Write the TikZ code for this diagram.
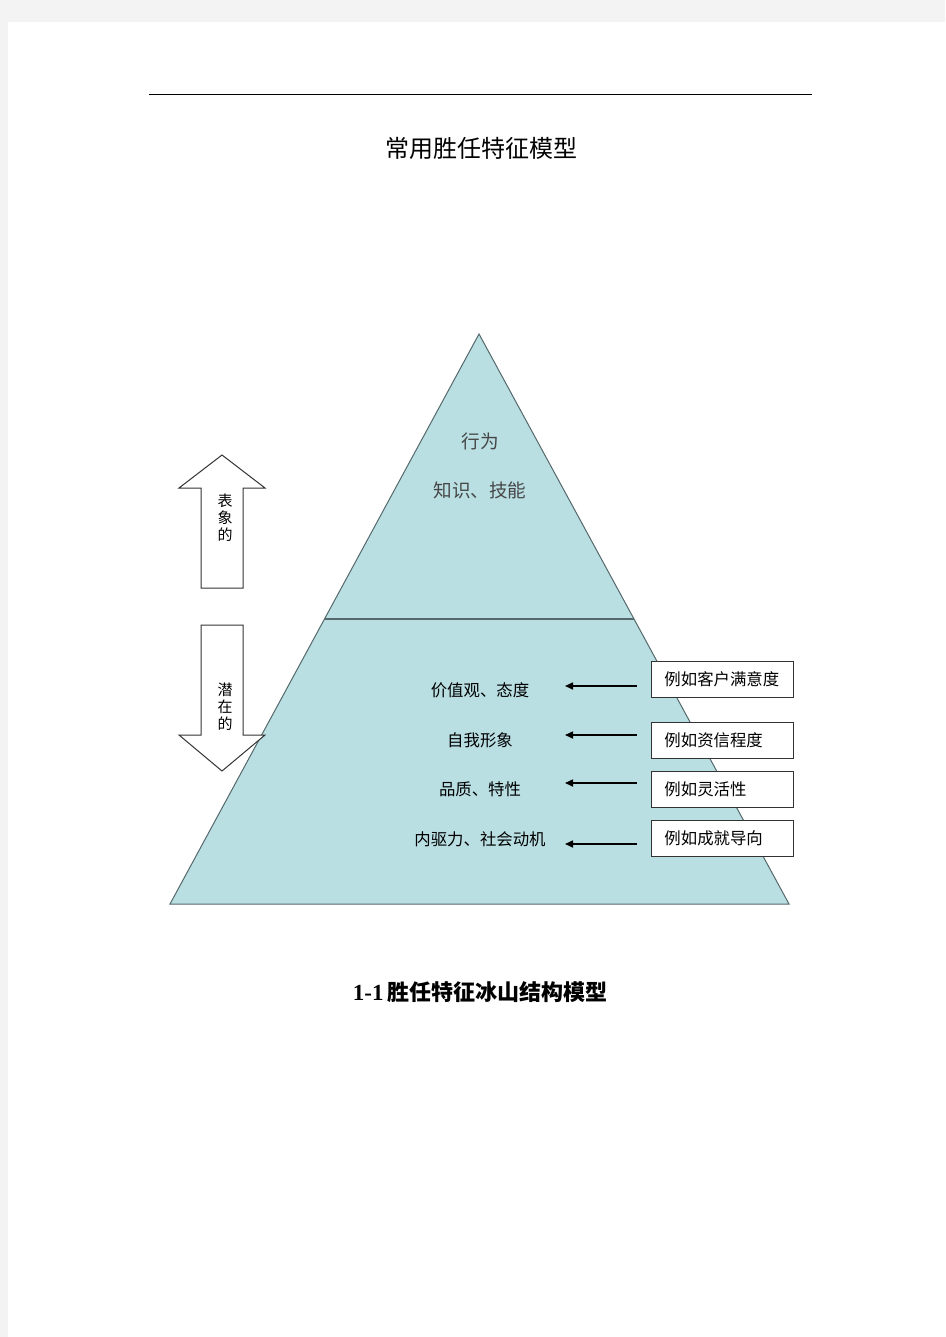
\documentclass[tikz,border=0pt]{standalone}
\usepackage{fontspec}
\newfontfamily\cjk{Noto Sans CJK SC}
\newfontfamily\tms{Liberation Serif}
\usetikzlibrary{positioning,arrows.meta}
\definecolor{icefill}{HTML}{B9DFE3}
\definecolor{iceline}{HTML}{55686B}
\definecolor{pagegray}{HTML}{F3F3F3}
\tikzset{
  lbl/.style={font=\cjk\fontsize{16.4}{18}\selectfont, inner sep=0pt},
  toplbl/.style={font=\cjk\fontsize{18.6}{20}\selectfont, text=black!72, inner sep=0pt},
  examplebox/.style={draw=black!80, line width=0.9pt, fill=white, anchor=west,
    minimum height=36pt, text width=116pt, inner xsep=13pt, inner ysep=0pt,
    align=left, font=\cjk\fontsize{16.4}{18}\selectfont},
  vlabel/.style={font=\cjk\fontsize{15}{17}\selectfont, align=center, inner sep=0pt},
  ptr/.style={-{Triangle[length=8pt,width=7pt]}, line width=1.6pt},
  blockarrow/.style={draw=black!80, line width=1pt, fill=white, line join=miter},
}

\begin{document}
\begin{tikzpicture}[x=1pt, y=-1pt]

  % page
  \useasboundingbox (0,0) rectangle (945,1337);
  \fill[pagegray] (0,0) rectangle (945,1337);
  \fill[white] (8,22) rectangle (945,1337);
  \draw[line width=1pt] (149,95) -- (812,95);

  \node[font=\cjk\fontsize{24}{26}\selectfont] (title) at (481,148) {常用胜任特征模型};

  % iceberg
  \filldraw[fill=icefill, draw=iceline, line width=1pt] (479,334) -- (789,904) -- (170,904) -- cycle;
  \draw[iceline, line width=1.4pt] (325,619) -- (634,619);

  \node[toplbl] (ttop) at (480,441) {行为};
  \node[toplbl] (tknow) at (480,490) {知识、技能};

  \node[lbl] (t1) at (480,690) {价值观、态度};
  \node[lbl] (t2) at (480,740) {自我形象};
  \node[lbl] (t3) at (480,789) {品质、特性};
  \node[lbl] (t4) at (480,839) {内驱力、社会动机};

  \node[examplebox] (b1) at (651,679.5) {例如客户满意度};
  \node[examplebox] (b2) at (651,740.5) {例如资信程度};
  \node[examplebox] (b3) at (651,789) {例如灵活性};
  \node[examplebox] (b4) at (651,838) {例如成就导向};

  \foreach \i/\y in {1/686,2/735,3/783,4/844} {
    \coordinate (s\i) at (637,\y);
    \coordinate (e\i) at (565,\y);
    \draw[ptr] (s\i) -- (e\i);
  }

  % side arrows
  \draw[blockarrow] (201,588) -- (201,488) -- (179,488) -- (222,455) -- (265,488) -- (243,488) -- (243,588) -- cycle;
  \draw[blockarrow] (201,625) -- (243,625) -- (243,735) -- (265,735) -- (222,771) -- (179,735) -- (201,735) -- cycle;
  \node[vlabel] (up) at (225,517.5) {表\\象\\的};
  \node[vlabel] (down) at (225,706.5) {潜\\在\\的};

  \node[font=\cjk\bfseries\fontsize{22}{24}\selectfont] (caption) at (480,992) {{\tms\bfseries\fontsize{23}{24}\selectfont 1-1}\,胜任特征冰山结构模型};

\end{tikzpicture}
\end{document}
